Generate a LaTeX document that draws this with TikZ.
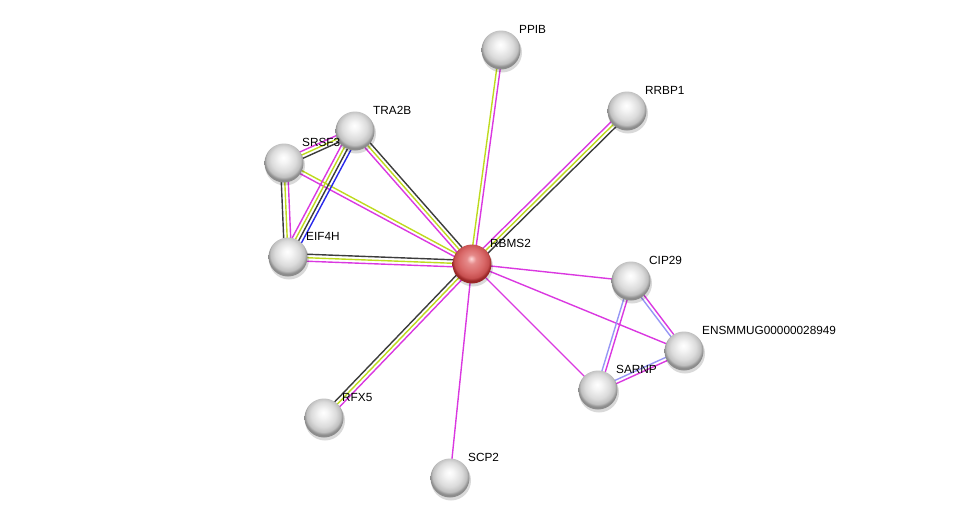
\documentclass[tikz,border=0pt]{standalone}
\usepackage{fontspec}
\setmainfont{Liberation Sans}
\usetikzlibrary{calc}
\pgfdeclarelayer{bg}
\pgfsetlayers{bg,main}
\definecolor{mag}{RGB}{218,56,224}
\definecolor{yg}{RGB}{190,218,30}
\definecolor{blk}{RGB}{60,60,60}
\definecolor{blu}{RGB}{40,40,235}
\definecolor{lbl}{RGB}{150,150,245}
\pgfdeclareradialshading{sphgray}{\pgfpoint{-1bp}{7bp}}{color(0bp)=(white); color(6bp)=(white!96!black); color(16bp)=(white!86!black); color(22bp)=(white!75!black); color(25bp)=(white!55!black); color(50bp)=(white!55!black)}
\pgfdeclareradialshading{sphred}{\pgfpoint{-1bp}{7bp}}{color(0bp)=(white!85!red); color(6bp)=(white!60!red!90!black); color(16bp)=(white!48!red!85!black); color(22bp)=(white!40!red!78!black); color(25bp)=(white!25!red!60!black); color(50bp)=(white!25!red!60!black)}
\newcommand\sedge[4]{\draw[#4] ($(#1.center)!#3!90:(#2.center)$) -- ($(#2.center)!#3!-90:(#1.center)$);}
\tikzset{
  prot/.style={circle,minimum size=39pt,inner sep=0pt,shading=sphgray},
  query/.style={prot,shading=sphred},
  lab/.style={anchor=west,font=\fontsize{11.8}{14}\selectfont,inner sep=0pt},
  ln/.style={line width=1.4pt}
}
\begin{document}
\begin{tikzpicture}[x=1pt,y=-1pt]
\useasboundingbox (0,0) rectangle (975,523);
% shadows
\foreach \x/\y in {501/50,627/111,355/131,284/163,288/257,472/264,631/281,684/351,598/390,324/418,450/478}
  \fill[black,opacity=0.15] (\x+1,\y+2.5) circle (20);
\node[prot] (ppib) at (501,50) {};
\node[prot] (rrbp) at (627,111) {};
\node[prot] (tra) at (355,131) {};
\node[prot] (srsf) at (284,163) {};
\node[prot] (eif) at (288,257) {};
\node[query] (rbms) at (472,264) {};
\node[prot] (cip) at (631,281) {};
\node[prot] (ens) at (684,351) {};
\node[prot] (sarnp) at (598,390) {};
\node[prot] (rfx) at (324,418) {};
\node[prot] (scp) at (450,478) {};
\node[lab] (lppib) at (519,29) {PPIB};
\node[lab] (lrrbp) at (645,90) {RRBP1};
\node[lab] (ltra) at (373,110) {TRA2B};
\node[lab] (lsrsf) at (302,142) {SRSF3};
\node[lab] (leif) at (306,236) {EIF4H};
\node[lab] (lrbms) at (490,243) {RBMS2};
\node[lab] (lcip) at (649,260) {CIP29};
\node[lab] (lens) at (702,330) {ENSMMUG00000028949};
\node[lab] (lsarnp) at (616,369) {SARNP};
\node[lab] (lrfx) at (342,397) {RFX5};
\node[lab] (lscp) at (468,457) {SCP2};
\begin{pgfonlayer}{bg}
\sedge{rbms}{ppib}{1.75pt}{ln,yg}
\sedge{rbms}{ppib}{-1.75pt}{ln,mag}
\sedge{rbms}{rrbp}{3.5pt}{ln,mag}
\sedge{rbms}{rrbp}{0pt}{ln,yg}
\sedge{rbms}{rrbp}{-3.5pt}{ln,blk}
\sedge{rbms}{tra}{3.5pt}{ln,mag}
\sedge{rbms}{tra}{0pt}{ln,yg}
\sedge{rbms}{tra}{-3.5pt}{ln,blk}
\sedge{rbms}{srsf}{1.75pt}{ln,mag}
\sedge{rbms}{srsf}{-1.75pt}{ln,yg}
\sedge{rbms}{eif}{3.5pt}{ln,mag}
\sedge{rbms}{eif}{0pt}{ln,yg}
\sedge{rbms}{eif}{-3.5pt}{ln,blk}
\sedge{rbms}{rfx}{3.5pt}{ln,mag}
\sedge{rbms}{rfx}{0pt}{ln,yg}
\sedge{rbms}{rfx}{-3.5pt}{ln,blk}
\draw[ln,mag] (rbms.center) -- (scp.center);
\draw[ln,mag] (rbms.center) -- (cip.center);
\draw[ln,mag] (rbms.center) -- (ens.center);
\draw[ln,mag] (rbms.center) -- (sarnp.center);
\sedge{tra}{srsf}{3.5pt}{ln,blk}
\sedge{tra}{srsf}{0pt}{ln,yg}
\sedge{tra}{srsf}{-3.5pt}{ln,mag}
\sedge{tra}{eif}{5.25pt}{ln,blu}
\sedge{tra}{eif}{1.75pt}{ln,blk}
\sedge{tra}{eif}{-1.75pt}{ln,yg}
\sedge{tra}{eif}{-5.25pt}{ln,mag}
\sedge{srsf}{eif}{3.5pt}{ln,mag}
\sedge{srsf}{eif}{0pt}{ln,yg}
\sedge{srsf}{eif}{-3.5pt}{ln,blk}
\sedge{cip}{ens}{1.75pt}{ln,mag}
\sedge{cip}{ens}{-1.75pt}{ln,lbl}
\sedge{cip}{sarnp}{1.75pt}{ln,mag}
\sedge{cip}{sarnp}{-1.75pt}{ln,lbl}
\sedge{ens}{sarnp}{1.75pt}{ln,mag}
\sedge{ens}{sarnp}{-1.75pt}{ln,lbl}
\end{pgfonlayer}
\end{tikzpicture}
\end{document}
